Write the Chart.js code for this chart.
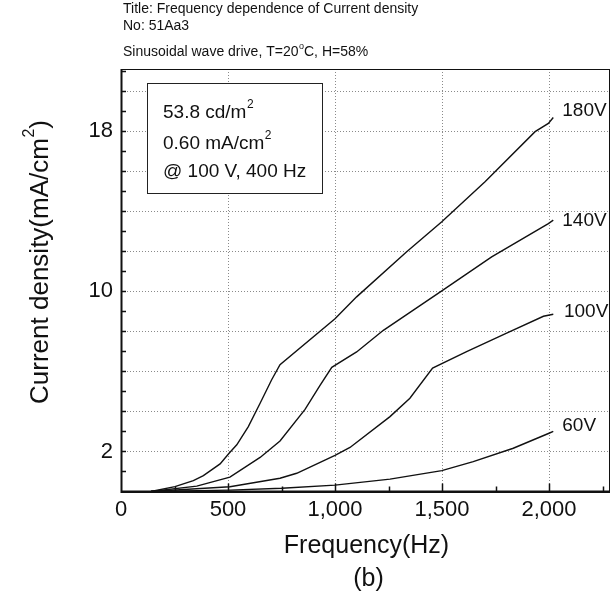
<!DOCTYPE html>
<html>
<head>
<meta charset="utf-8">
<script src="https://cdn.jsdelivr.net/npm/chart.js@4/dist/chart.umd.min.js"></script>
<style>
  html, body { margin: 0; padding: 0; background: #fff; }
  #wrap { width: 613px; height: 603px; }
</style>
</head>
<body>
<div id="wrap"><canvas id="c" width="613" height="603"></canvas></div>
<script>
// ---- data ----
const freq180 = [140, 252, 338, 385, 463, 505, 541, 595, 650, 704, 743, 1000, 1101, 1335, 1499, 1701, 1935, 1997, 2020];
const cur180  = [0, 0.24, 0.54, 0.79, 1.38, 1.91, 2.33, 3.24, 4.41, 5.58, 6.33, 8.63, 9.72, 11.97, 13.47, 15.47, 17.97, 18.38, 18.68];

const freq140 = [140, 354, 509, 650, 743, 860, 930, 985, 1101, 1226, 1499, 1732, 1997, 2020];
const cur140  = [0, 0.27, 0.72, 1.7, 2.52, 4.1, 5.3, 6.2, 6.97, 8.05, 10.02, 11.72, 13.38, 13.55];

const freq100 = [140, 509, 743, 821, 1000, 1070, 1257, 1350, 1456, 1615, 1802, 1974, 2020];
const cur100  = [0, 0.24, 0.66, 0.91, 1.8, 2.2, 3.74, 4.66, 6.16, 6.99, 7.91, 8.75, 8.85];

const freq60 = [140, 509, 751, 1000, 1257, 1499, 1646, 1833, 2000, 2020];
const cur60  = [0, 0.07, 0.16, 0.32, 0.62, 1.04, 1.49, 2.16, 2.91, 3.0];

const seriesNames = ['180V', '140V', '100V', '60V'];
const xTickValues = [0, 250, 500, 750, 1000, 1250, 1500, 1750, 2000, 2250];
const xTickLabels = [0, 500, 1000, 1500, 2000];
const yTickValues = [1, 2, 3, 4, 5, 6, 7, 8, 9, 10, 11, 12, 13, 14, 15, 16, 17, 18, 19, 20, 21];
const yTickLabels = [2, 10, 18];

const headerLines = ['Title: Frequency dependence of Current density', 'No: 51Aa3'];
const boxLines = [['53.8 cd/m', '2', ''], ['0.60 mA/cm', '2', ''], ['@ 100 V, 400 Hz', '', '']];

// ---- build datasets ----
function pts(xs, ys) { return xs.map((x, i) => ({ x: x, y: ys[i] })); }
const allSeries = [[freq180, cur180], [freq140, cur140], [freq100, cur100], [freq60, cur60]];
const datasets = allSeries.map((s, i) => ({
  label: seriesNames[i],
  data: pts(s[0], s[1]),
  borderColor: '#111',
  borderWidth: 1.4,
  pointRadius: 0,
  tension: 0,
  fill: false
}));

const FONT = '"Liberation Sans", Arial, Helvetica, sans-serif';

// label anchors in data space (left edge of text, vertical center)
const seriesLabelAnchor = [[2062, 19.0], [2062, 13.5], [2070, 9.0], [2062, 3.28]];

function supText(ctx, parts, x, y, size, supSize) {
  ctx.font = size + 'px ' + FONT;
  ctx.fillText(parts[0], x, y);
  let w = ctx.measureText(parts[0]).width;
  if (parts[1]) {
    ctx.font = supSize + 'px ' + FONT;
    ctx.fillText(parts[1], x + w + 0.5, y - size * 0.42);
    w += ctx.measureText(parts[1]).width + 0.5;
    ctx.font = size + 'px ' + FONT;
  }
  if (parts[2]) {
    ctx.fillText(parts[2], x + w, y);
    w += ctx.measureText(parts[2]).width;
  }
  return w;
}
function supWidth(ctx, parts, size, supSize) {
  ctx.font = size + 'px ' + FONT;
  let w = ctx.measureText(parts[0]).width + (parts[2] ? ctx.measureText(parts[2]).width : 0);
  if (parts[1]) { ctx.font = supSize + 'px ' + FONT; w += ctx.measureText(parts[1]).width + 0.5; }
  return w;
}

const decor = {
  id: 'decor',
  beforeDraw(chart) {
    const ctx = chart.ctx;
    ctx.save();
    ctx.fillStyle = '#fff';
    ctx.fillRect(0, 0, chart.width, chart.height);
    ctx.restore();
  },
  afterDraw(chart) {
    const ctx = chart.ctx;
    const a = chart.chartArea;
    const xs = chart.scales.x, ys = chart.scales.y;
    ctx.save();

    // frame
    ctx.strokeStyle = '#111';
    ctx.lineWidth = 1;
    ctx.strokeRect(a.left + 0.5, a.top + 0.5, a.right - a.left - 1, a.bottom - a.top - 1);
    ctx.lineWidth = 2;
    ctx.beginPath();
    ctx.moveTo(a.left + 0.5, a.top);
    ctx.lineTo(a.left + 0.5, a.bottom + 0.5);
    ctx.lineTo(a.right, a.bottom + 0.5);
    ctx.stroke();

    // inward ticks
    ctx.lineWidth = 1.5;
    ctx.beginPath();
    yTickValues.forEach(v => {
      const py = Math.round(ys.getPixelForValue(v)) + 0.5;
      ctx.moveTo(a.left, py); ctx.lineTo(a.left + 5, py);
    });
    xTickValues.forEach(v => {
      if (v <= 0) return;
      const px = Math.round(xs.getPixelForValue(v)) + 0.5;
      const len = (v % 500 === 0) ? 8 : 5;
      ctx.moveTo(px, a.bottom); ctx.lineTo(px, a.bottom - len);
    });
    ctx.stroke();

    // header
    ctx.fillStyle = '#111';
    ctx.textBaseline = 'middle';
    ctx.textAlign = 'left';
    ctx.font = '14px ' + FONT;
    ctx.fillText(headerLines[0], 123, 9);
    ctx.fillText(headerLines[1], 123, 26);
    supText(ctx, ['Sinusoidal wave drive, T=20', 'o', 'C, H=58%'], 123, 52, 14, 9);

    // info box
    ctx.fillStyle = '#fff';
    ctx.fillRect(147.5, 83.5, 175, 110);
    ctx.strokeStyle = '#222';
    ctx.lineWidth = 1;
    ctx.strokeRect(147.5, 83.5, 175, 110);
    ctx.fillStyle = '#111';
    const boxY = [113, 144, 172];
    boxLines.forEach((p, i) => supText(ctx, p, 163, boxY[i], 19, 12));

    // series labels
    ctx.font = '19px ' + FONT;
    seriesNames.forEach((n, i) => {
      const px = xs.getPixelForValue(seriesLabelAnchor[i][0]);
      const py = ys.getPixelForValue(seriesLabelAnchor[i][1]);
      ctx.fillText(n, px, py);
    });

    // axis titles
    ctx.textAlign = 'center';
    ctx.font = '25px ' + FONT;
    const cx = (a.left + a.right) / 2;
    ctx.fillText('Frequency(Hz)', cx + 1, 546);
    ctx.fillText('(b)', cx + 3, 579);

    ctx.save();
    ctx.translate(41, 262);
    ctx.rotate(-Math.PI / 2);
    ctx.textAlign = 'left';
    const yParts = ['Current density(mA/cm', '2', ')'];
    const w = supWidth(ctx, yParts, 26, 16);
    supText(ctx, yParts, -w / 2, 0, 26, 16);
    ctx.restore();

    ctx.restore();
  }
};

new Chart(document.getElementById('c'), {
  type: 'line',
  data: { datasets: datasets },
  plugins: [decor],
  options: {
    responsive: false,
    animation: false,
    layout: { padding: { top: 69, right: 3, left: 0, bottom: 0 } },
    plugins: { legend: { display: false }, tooltip: { enabled: false }, title: { display: false } },
    scales: {
      x: {
        type: 'linear',
        min: 0, max: 2285,
        afterBuildTicks(s) { s.ticks = xTickValues.map(v => ({ value: v })); },
        afterFit(s) { s.height = 111.5; },
        border: { display: false, dash: [1, 2] },
        grid: {
          drawTicks: false,
          lineWidth: 1,
          borderDash: [1, 2],
          color: (c) => { const v = c.tick ? c.tick.value : -1; return (v > 0 && v % 500 === 0) ? '#8a8a8a' : 'rgba(0,0,0,0)'; }
        },
        ticks: {
          autoSkip: false,
          maxRotation: 0,
          minRotation: 0,
          padding: 5,
          color: '#111',
          font: { family: FONT, size: 22 },
          callback: (v) => xTickLabels.includes(v) ? v.toLocaleString('en-US') : ''
        }
      },
      y: {
        type: 'linear',
        min: 0, max: 21.1,
        afterBuildTicks(s) { s.ticks = yTickValues.map(v => ({ value: v })); },
        afterFit(s) { s.width = 121; },
        border: { display: false, dash: [1, 2] },
        grid: {
          drawTicks: false,
          lineWidth: 1,
          borderDash: [1, 2],
          color: (c) => { const v = c.tick ? c.tick.value : -1; return (v > 0 && v <= 20 && v % 2 === 0) ? '#8a8a8a' : 'rgba(0,0,0,0)'; }
        },
        ticks: {
          autoSkip: false,
          padding: 8,
          color: '#111',
          font: { family: FONT, size: 22 },
          callback: (v) => yTickLabels.includes(v) ? String(v) : ''
        }
      }
    }
  }
});
</script>
</body>
</html>
